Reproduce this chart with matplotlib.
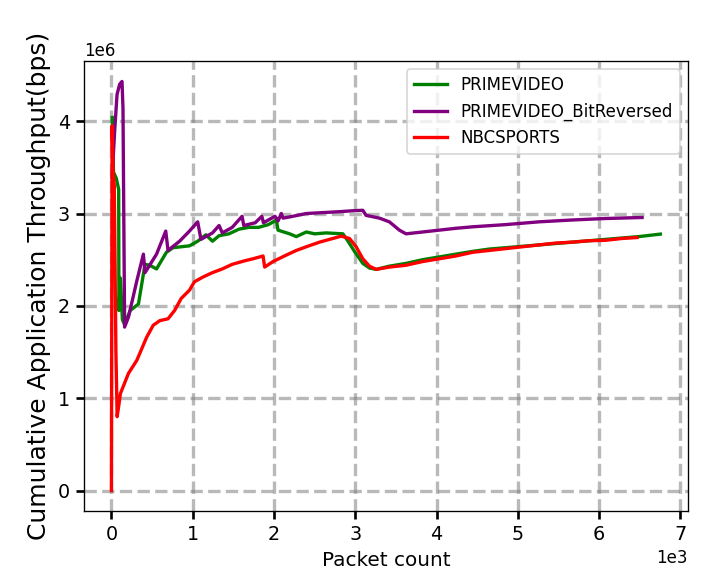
import matplotlib

matplotlib.use("Agg")
import matplotlib.pyplot as plt

# --- valores (pacotes, bps) ---
prime_x = [10, 25, 60, 89, 92, 110, 135, 160, 231, 332, 413, 470, 555, 676, 757, 960,
           1061, 1162, 1243, 1324, 1445, 1567, 1688, 1810, 1931, 2012, 2029, 2049,
           2192, 2274, 2397, 2500, 2642, 2847, 2888, 2990, 3092, 3174, 3256, 3419,
           3624, 3828, 4033, 4237, 4442, 4646, 4851, 5260, 5669, 6078, 6487, 6753]
prime_y = [4.04e6, 3.45e6, 3.38e6, 3.26e6, 1.95e6, 2.3e6, 1.85e6, 1.8e6, 1.95e6, 2.02e6,
           2.45e6, 2.44e6, 2.40e6, 2.58e6, 2.63e6, 2.65e6, 2.70e6, 2.77e6, 2.70e6,
           2.76e6, 2.78e6, 2.83e6, 2.85e6, 2.85e6, 2.88e6, 2.92e6, 2.93e6, 2.82e6,
           2.78e6, 2.75e6, 2.80e6, 2.78e6, 2.79e6, 2.78e6, 2.73e6, 2.59e6, 2.46e6,
           2.41e6, 2.395e6, 2.43e6, 2.46e6, 2.50e6, 2.53e6, 2.56e6, 2.59e6, 2.615e6,
           2.63e6, 2.66e6, 2.69e6, 2.72e6, 2.75e6, 2.777e6]

bitrev_x = [8, 40, 69, 101, 130, 142, 162, 210, 312, 393, 413, 555, 668, 696, 838, 960,
            1061, 1101, 1243, 1324, 1364, 1486, 1607, 1628, 1769, 1850, 1870, 2012,
            2029, 2050, 2090, 2110, 2233, 2397, 2601, 2806, 2969, 3092, 3133, 3297,
            3419, 3542, 3624, 3828, 4033, 4237, 4442, 4851, 5260, 5669, 6078, 6528]
bitrev_y = [3.39e6, 3.9e6, 4.29e6, 4.40e6, 4.43e6, 4.14e6, 1.77e6, 1.88e6, 2.27e6,
            2.56e6, 2.36e6, 2.56e6, 2.81e6, 2.60e6, 2.70e6, 2.81e6, 2.91e6, 2.72e6,
            2.79e6, 2.87e6, 2.79e6, 2.85e6, 2.97e6, 2.87e6, 2.90e6, 2.97e6, 2.90e6,
            2.97e6, 2.95e6, 2.92e6, 3.0e6, 2.95e6, 2.97e6, 3.0e6, 3.01e6, 3.02e6,
            3.03e6, 3.035e6, 2.98e6, 2.95e6, 2.91e6, 2.82e6, 2.78e6, 2.80e6, 2.82e6,
            2.84e6, 2.856e6, 2.88e6, 2.91e6, 2.93e6, 2.946e6, 2.957e6]

nbc_x = [0, 8, 20, 35, 55, 70, 95, 110, 210, 312, 433, 514, 595, 696, 777, 858, 960,
         1020, 1121, 1243, 1364, 1486, 1648, 1742, 1865, 1885, 1988, 2151, 2274, 2397,
         2560, 2724, 2826, 2928, 3010, 3092, 3174, 3256, 3419, 3624, 3828, 4033, 4237,
         4442, 4646, 4851, 5055, 5260, 5464, 5669, 5873, 6078, 6282, 6466]
nbc_y = [0, 3.95e6, 3.45e6, 3.3e6, 1.5e6, 0.8e6, 0.95e6, 1.05e6, 1.27e6, 1.41e6,
         1.66e6, 1.79e6, 1.84e6, 1.86e6, 1.95e6, 2.08e6, 2.17e6, 2.26e6, 2.31e6,
         2.36e6, 2.40e6, 2.45e6, 2.49e6, 2.51e6, 2.54e6, 2.42e6, 2.48e6, 2.55e6,
         2.60e6, 2.64e6, 2.69e6, 2.73e6, 2.755e6, 2.73e6, 2.64e6, 2.51e6, 2.43e6,
         2.395e6, 2.42e6, 2.44e6, 2.48e6, 2.51e6, 2.54e6, 2.58e6, 2.60e6, 2.62e6,
         2.64e6, 2.66e6, 2.68e6, 2.69e6, 2.705e6, 2.71e6, 2.73e6, 2.74e6]

fig = plt.figure(figsize=(721 / 120, 585 / 120), dpi=120)
ax = fig.add_axes([0.1165, 0.1265, 0.8375, 0.7692])

ax.plot(prime_x, prime_y, color="green", linewidth=2, label="PRIMEVIDEO")
ax.plot(bitrev_x, bitrev_y, color="purple", linewidth=2, label="PRIMEVIDEO_BitReversed")
ax.plot(nbc_x, nbc_y, color="red", linewidth=2, label="NBCSPORTS")

ax.ticklabel_format(style="sci", axis="both", scilimits=(0, 0))
ax.grid(True, linestyle="--", linewidth=2, color="gray", alpha=0.55)
ax.tick_params(width=1.6, length=5, labelsize=11.5)
ax.set_xlabel("Packet count", fontsize=12)
ax.set_ylabel("Cumulative Application Throughput(bps)", fontsize=15)
ax.legend(loc="upper right")

plt.savefig("out.png", dpi=120)
plt.close()
